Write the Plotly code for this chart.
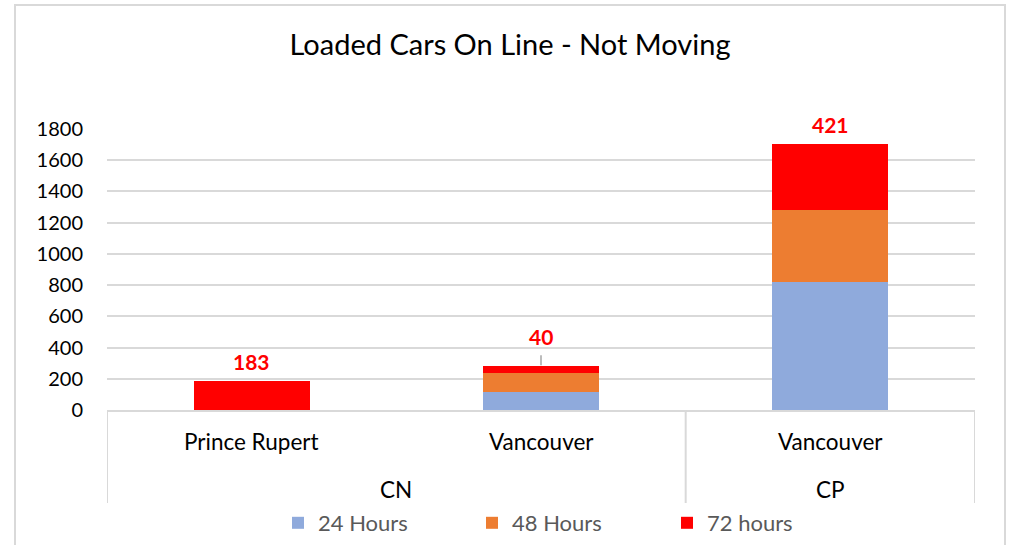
import plotly.graph_objects as go

railways = ["CN", "CN", "CP"]
ports = ["Prince Rupert", "Vancouver", "Vancouver"]
hours_24 = [0, 115, 820]
hours_48 = [0, 125, 460]
hours_72 = [183, 40, 421]

series_names = ["24 Hours", "48 Hours", "72 hours"]
series_colors = ["#8FAADC", "#ED7D31", "#FF0000"]
series_values = [hours_24, hours_48, hours_72]

FONT = "Lato, Carlito, Calibri, sans-serif"
W, H = 1011, 545
ML, MR, MT, MB = 107, 36, 129, 135
PH = H - MT - MB  # plot height in px

xpos = list(range(len(ports)))

fig = go.Figure()
for i, (name, color, vals) in enumerate(zip(series_names, series_colors, series_values)):
    fig.add_trace(go.Bar(
        x=xpos, y=vals, name=name,
        marker=dict(color=color, line=dict(width=0)),
        legend="legend" if i == 0 else f"legend{i+1}",
        showlegend=True,
    ))

# data labels for 72 hours
totals = [a + b + c for a, b, c in zip(hours_24, hours_48, hours_72)]
for i, (v, t) in enumerate(zip(hours_72, totals)):
    if i == 1:
        fig.add_annotation(x=xpos[i], y=t, text=f"<b>{v}</b>", showarrow=True,
                           arrowhead=0, arrowwidth=1.5, arrowcolor="#A6A6A6",
                           ax=0, ay=-30, standoff=1, startstandoff=5,
                           font=dict(color="#FF0000", size=21, family=FONT))
    else:
        fig.add_annotation(x=xpos[i], y=t, text=f"<b>{v}</b>", showarrow=False,
                           yanchor="bottom", yshift=5,
                           font=dict(color="#FF0000", size=21, family=FONT))

# inner category labels
for i, p in enumerate(ports):
    fig.add_annotation(x=xpos[i], y=0, yref="paper", text=p, showarrow=False,
                       yanchor="middle", yshift=-31,
                       font=dict(size=22.5, color="#000000", family=FONT))

# outer group labels and dividers
groups = []
for i, r in enumerate(railways):
    if not groups or groups[-1][0] != r:
        groups.append([r, [i]])
    else:
        groups[-1][1].append(i)
div_y1 = -93 / PH
for r, idx in groups:
    fig.add_annotation(x=sum(idx) / len(idx), y=0, yref="paper", text=r, showarrow=False,
                       yanchor="middle", yshift=-79,
                       font=dict(size=22.5, color="#000000", family=FONT))
boundaries = [groups[0][1][0] - 0.5] + [idx[-1] + 0.5 for _, idx in groups]
for b in boundaries:
    fig.add_shape(type="line", xref="x", yref="paper", x0=b, x1=b, y0=0, y1=div_y1,
                  line=dict(color="#D9D9D9", width=2))

# chart border
PW = W - ML - MR
fig.add_shape(type="rect", xref="paper", yref="paper",
              x0=(15 - ML) / PW, x1=(1005 - ML) / PW,
              y0=-(H + 5 - MT - PH) / PH, y1=(MT + PH - 5) / PH,
              line=dict(color="#D9D9D9", width=2), layer="below")

legend_common = dict(orientation="h", xanchor="left", yanchor="middle",
                     font=dict(size=22, color="#595959", family=FONT),
                     bgcolor="rgba(0,0,0,0)", itemwidth=30,
                     xref="container", yref="container")
fig.update_layout(
    width=W, height=H,
    barmode="stack", bargap=0.6,
    margin=dict(l=ML, r=MR, t=MT, b=MB),
    paper_bgcolor="white", plot_bgcolor="white",
    showlegend=True,
    title=dict(text="Loaded Cars On Line - Not Moving", x=510 / W, xanchor="center",
               y=1 - 45 / H, yanchor="middle",
               font=dict(size=29, color="#000000", family=FONT)),
    font=dict(family=FONT, color="#000000"),
    xaxis=dict(range=[-0.5, len(ports) - 0.5], showline=True, linecolor="#D9D9D9",
               linewidth=2, showticklabels=False, ticks="", showgrid=False,
               zeroline=False),
    yaxis=dict(range=[0, 1800], dtick=200, showgrid=True, gridcolor="#D9D9D9",
               gridwidth=2, zeroline=False, showline=False,
               tickfont=dict(size=20, color="#000000", family=FONT),
               ticks="outside", ticklen=19, tickcolor="rgba(0,0,0,0)"),
    legend=dict(x=278 / W, y=1 - 523 / H, **legend_common),
    legend2=dict(x=472 / W, y=1 - 523 / H, **legend_common),
    legend3=dict(x=667 / W, y=1 - 523 / H, **legend_common),
)

fig.write_html("out.html", config={"displayModeBar": False},
               post_script="document.body.style.margin='0px';")
